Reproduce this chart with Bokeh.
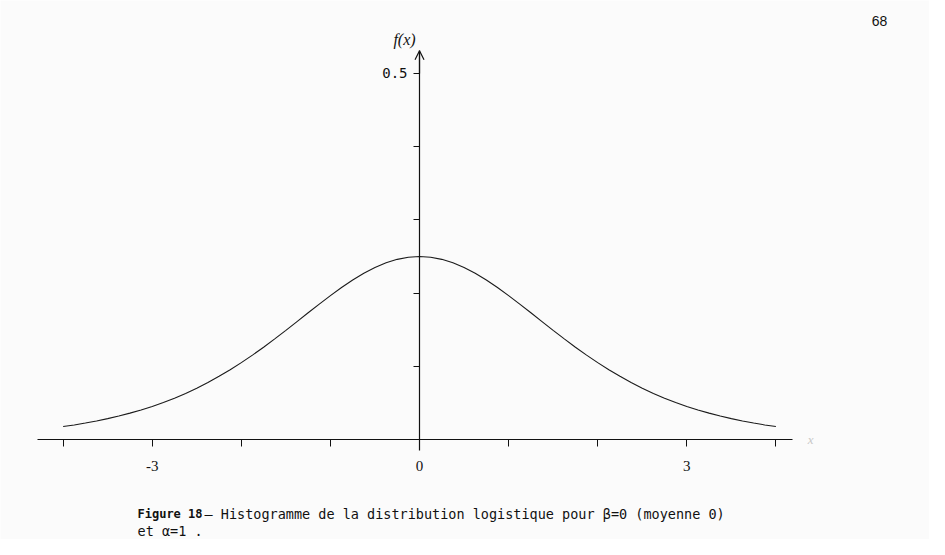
from bokeh.plotting import figure
from bokeh.models import LinearAxis, FixedTicker, Range1d, Label, Arrow, OpenHead
from bokeh.embed import file_html
from bokeh.resources import INLINE

# ---- data (logistic density, beta=0, alpha=1) ----
x_vals = [-4.0, -3.875, -3.75, -3.625, -3.5, -3.375, -3.25, -3.125,
          -3.0, -2.875, -2.75, -2.625, -2.5, -2.375, -2.25, -2.125,
          -2.0, -1.875, -1.75, -1.625, -1.5, -1.375, -1.25, -1.125,
          -1.0, -0.875, -0.75, -0.625, -0.5, -0.375, -0.25, -0.125,
          0.0, 0.125, 0.25, 0.375, 0.5, 0.625, 0.75, 0.875,
          1.0, 1.125, 1.25, 1.375, 1.5, 1.625, 1.75, 1.875,
          2.0, 2.125, 2.25, 2.375, 2.5, 2.625, 2.75, 2.875,
          3.0, 3.125, 3.25, 3.375, 3.5, 3.625, 3.75, 3.875, 4.0]
f_vals = [0.0177, 0.0199, 0.0225, 0.0253, 0.0285, 0.0320, 0.0360, 0.0403,
          0.0452, 0.0506, 0.0565, 0.0630, 0.0701, 0.0779, 0.0863, 0.0953,
          0.1050, 0.1153, 0.1261, 0.1375, 0.1491, 0.1611, 0.1731, 0.1850,
          0.1966, 0.2077, 0.2179, 0.2271, 0.2350, 0.2414, 0.2461, 0.2490,
          0.2500, 0.2490, 0.2461, 0.2414, 0.2350, 0.2271, 0.2179, 0.2077,
          0.1966, 0.1850, 0.1731, 0.1611, 0.1491, 0.1375, 0.1261, 0.1153,
          0.1050, 0.0953, 0.0863, 0.0779, 0.0701, 0.0630, 0.0565, 0.0506,
          0.0452, 0.0403, 0.0360, 0.0320, 0.0285, 0.0253, 0.0225, 0.0199, 0.0177]
x_major_ticks = [-3, 0, 3]
x_major_labels = {-3: "-3", 0: "0", 3: "3"}
x_minor_ticks = [-4, -2, -1, 1, 2, 4]
y_major_ticks = [0.5]
y_minor_ticks = [0.1, 0.2, 0.3, 0.4]

caption_bold = "Figure 18"
caption_line1 = "— Histogramme de la distribution logistique pour β=0 (moyenne 0)"
caption_line2 = "et α=1 ."
page_number = "68"

BG = "#fbfbfb"
INK = "#111111"

p = figure(width=929, height=539,
           x_range=Range1d(-4.703, 5.724), y_range=Range1d(-0.1366, 0.5997),
           x_axis_type=None, y_axis_type=None,
           output_backend="svg", toolbar_location=None,
           min_border=0, min_border_left=0, min_border_right=0,
           min_border_top=0, min_border_bottom=0)
p.background_fill_color = BG
p.border_fill_color = BG
p.outline_line_color = None

# x axis crossing at y = 0
xa = LinearAxis(fixed_location=0, bounds=(-4.29, 4.19),
                ticker=FixedTicker(ticks=x_major_ticks, minor_ticks=x_minor_ticks),
                major_label_overrides=x_major_labels)
xa.axis_line_color = INK
xa.axis_line_width = 1.2
xa.major_tick_out = 7
xa.major_tick_in = 0
xa.minor_tick_out = 7
xa.minor_tick_in = 0
xa.major_tick_line_color = INK
xa.minor_tick_line_color = INK
xa.major_label_standoff = 14
xa.major_label_text_font = "Liberation Serif"
xa.major_label_text_font_size = "15px"
xa.major_label_text_color = INK
p.add_layout(xa, "below")

# y axis crossing at x = 0
ya = LinearAxis(fixed_location=0, bounds=(-0.015, 0.531),
                ticker=FixedTicker(ticks=y_major_ticks, minor_ticks=y_minor_ticks))
ya.axis_line_color = INK
ya.axis_line_width = 1.2
ya.major_tick_out = 6
ya.major_tick_in = 0
ya.minor_tick_out = 6
ya.minor_tick_in = 0
ya.major_tick_line_color = INK
ya.minor_tick_line_color = INK
ya.major_label_standoff = 6
ya.major_label_orientation = "horizontal"
ya.major_label_text_font = "DejaVu Sans Mono"
ya.major_label_text_font_size = "14px"
ya.major_label_text_color = INK
p.add_layout(ya, "left")

# arrow head at the top of the y axis
p.add_layout(Arrow(end=OpenHead(size=9, line_color=INK, line_width=1.2),
                   x_start=0, y_start=0.50, x_end=0, y_end=0.531,
                   line_color=INK, line_width=1.2))

# the curve
p.line(x_vals, f_vals, line_color="#1a1a1a", line_width=1.1)

# axis names
p.add_layout(Label(x=0, y=0.5464, x_offset=-15, text="f(x)",
                   text_align="center", text_baseline="middle",
                   text_font="Liberation Serif", text_font_style="italic",
                   text_font_size="16px", text_color=INK))
p.add_layout(Label(x=4.29, y=0, x_offset=6, text="x",
                   text_align="left", text_baseline="middle",
                   text_font="Liberation Serif", text_font_style="italic",
                   text_font_size="13px", text_color="#c8c8c8"))

# caption and page number (screen units)
p.add_layout(Label(x=137, y=26, x_units="screen", y_units="screen", text=caption_bold,
                   text_align="left", text_baseline="middle",
                   text_font="DejaVu Sans Mono", text_font_style="bold",
                   text_font_size="12px", text_color=INK))
p.add_layout(Label(x=204, y=26, x_units="screen", y_units="screen", text=caption_line1,
                   text_align="left", text_baseline="middle",
                   text_font="DejaVu Sans Mono", text_font_size="13.5px", text_color=INK))
p.add_layout(Label(x=137, y=9, x_units="screen", y_units="screen", text=caption_line2,
                   text_align="left", text_baseline="middle",
                   text_font="DejaVu Sans Mono", text_font_size="13.5px", text_color=INK))
p.add_layout(Label(x=879, y=519, x_units="screen", y_units="screen", text=page_number,
                   text_align="center", text_baseline="middle",
                   text_font="Liberation Sans", text_font_size="14px", text_color=INK))

open("out.html", "w").write(file_html(p, INLINE))
